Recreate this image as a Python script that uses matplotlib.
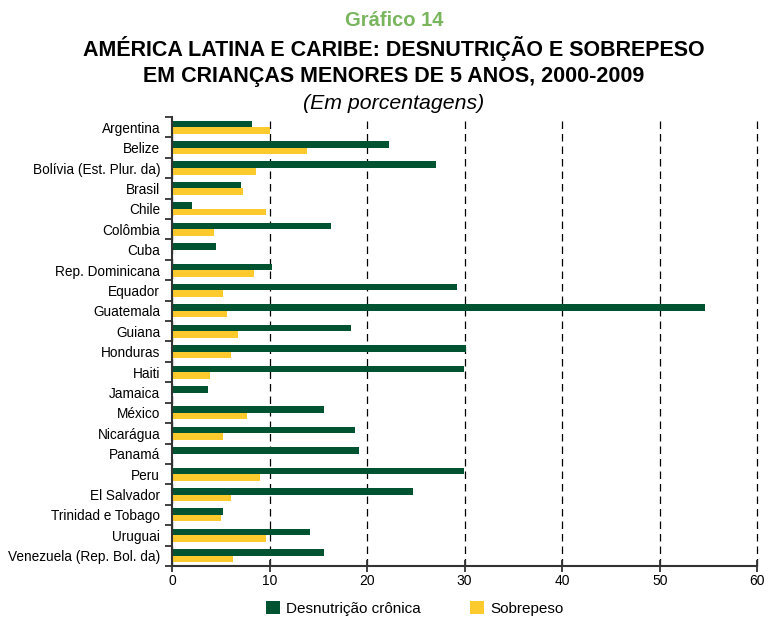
import numpy as np
import matplotlib.pyplot as plt

plt.rcParams['font.family'] = ['Liberation Sans', 'DejaVu Sans']

paises = ['Argentina', 'Belize', 'Bolívia (Est. Plur. da)', 'Brasil', 'Chile',
          'Colômbia', 'Cuba', 'Rep. Dominicana', 'Equador', 'Guatemala',
          'Guiana', 'Honduras', 'Haiti', 'Jamaica', 'México', 'Nicarágua',
          'Panamá', 'Peru', 'El Salvador', 'Trinidad e Tobago', 'Uruguai',
          'Venezuela (Rep. Bol. da)']
desnutricao = [8.2, 22.2, 27.1, 7.1, 2.0, 16.3, 4.5, 10.2, 29.2, 54.6,
               18.4, 30.1, 29.9, 3.7, 15.6, 18.8, 19.2, 29.9, 24.7, 5.2,
               14.1, 15.6]
sobrepeso = [10.0, 13.8, 8.6, 7.3, 9.6, 4.3, np.nan, 8.4, 5.2, 5.6,
             6.8, 6.0, 3.9, np.nan, 7.7, 5.2, np.nan, 9.0, 6.0, 5.0,
             9.6, 6.2]

verde = '#005331'
amarelo = '#fdca2e'

fig = plt.figure(figsize=(7.68, 6.17), dpi=100)
ax = fig.add_axes([0.224, 0.0827, 0.762, 0.7277])

y = np.arange(len(paises))
h = 0.32
ax.barh(y - h/2, desnutricao, height=h, color=verde, label='Desnutrição crônica', zorder=3)
ax.barh(y + h/2, sobrepeso, height=h, color=amarelo, label='Sobrepeso', zorder=3)

ax.set_xlim(0, 60)
ax.set_ylim(len(paises) - 0.5, -0.5)
ax.set_xticks(np.arange(0, 61, 10))
ax.set_yticks(y)
ax.set_yticklabels(paises, fontsize=9.8)
ax.set_yticks(np.arange(len(paises) + 1) - 0.5, minor=True)
ax.tick_params(axis='y', which='major', length=0, pad=8.5)
ax.tick_params(axis='y', which='minor', length=5, width=1.3, color='#333333')
ax.tick_params(axis='x', direction='inout', length=8, width=1.3, color='#333333',
               labelsize=10, pad=2)

ax.xaxis.grid(True, color='black', linestyle=(0, (6, 4)), linewidth=0.9, zorder=0)
for gl in ax.get_xgridlines():
    gl.set_clip_on(False)
for s in ['top', 'right']:
    ax.spines[s].set_visible(False)
for s in ['left', 'bottom']:
    ax.spines[s].set_color('#333333')
    ax.spines[s].set_linewidth(1.5)
    ax.spines[s].set_zorder(4)

fig.text(0.513, 0.966, 'Gráfico 14', ha='center', va='center', fontsize=14.5,
         fontweight='bold', color='#79b55d')
fig.text(0.513, 0.921, 'AMÉRICA LATINA E CARIBE: DESNUTRIÇÃO E SOBREPESO',
         ha='center', va='center', fontsize=15.5, fontweight='bold')
fig.text(0.513, 0.876, 'EM CRIANÇAS MENORES DE 5 ANOS, 2000-2009',
         ha='center', va='center', fontsize=15.5, fontweight='bold')
fig.text(0.513, 0.833, '(Em porcentagens)', ha='center', va='center',
         fontsize=15.3, style='italic')

fig.legend(loc='center', bbox_to_anchor=(0.540, 0.014), ncol=2, frameon=False,
           fontsize=11, handlelength=0.92, handleheight=0.92, columnspacing=3.2,
           handletextpad=0.4, borderpad=0.1)

fig.savefig('out.png', dpi=100)
